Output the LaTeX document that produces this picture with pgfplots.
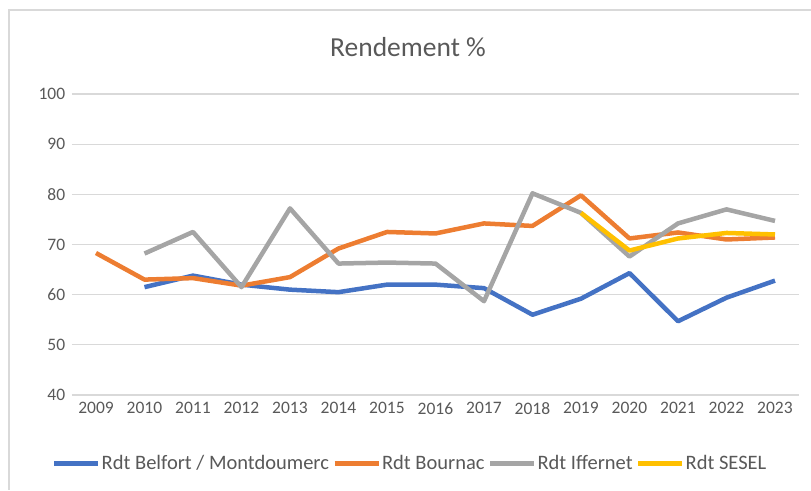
\documentclass[border=0pt]{standalone}
\usepackage{fontspec}
\setmainfont{Carlito}
\usepackage{pgfplots}
\pgfplotsset{compat=1.18}

\definecolor{rdtblue}{HTML}{4472C4}
\definecolor{rdtorange}{HTML}{ED7D31}
\definecolor{rdtgray}{HTML}{A5A5A5}
\definecolor{rdtyellow}{HTML}{FFC000}
\definecolor{gridgray}{HTML}{D9D9D9}
\definecolor{txtgray}{HTML}{595959}

\begin{document}
\begin{tikzpicture}[x=1pt,y=1pt]
\useasboundingbox (0,0) rectangle (811,490);
% chart area frame (only top and left edges visible)
\draw[gridgray, line width=1.5pt] (811,480) -- (9,480) -- (9,0);
\node[txtgray, font=\fontsize{27.5}{32}\selectfont] at (408,443) {Rendement \%};

\begin{axis}[
  scale only axis,
  width=727.5pt, height=301pt,
  at={(71.75pt,95pt)}, anchor=south west,
  xmin=2008.5, xmax=2023.5,
  ymin=40, ymax=100,
  xtick={2009,...,2023},
  ytick={40,50,...,100},
  x tick label style={/pgf/number format/1000 sep={}},
  /pgf/number format/assume math mode=true,
  tick label style={font=\fontsize{17.5}{20}\selectfont, text=txtgray},
  yticklabel style={xshift=-3pt},
  xticklabel style={yshift=-4pt},
  major tick length=0pt,
  axis line style={draw=none},
  ymajorgrids,
  grid style={gridgray, line width=1.3pt},
  legend columns=4,
  legend style={draw=none, at={(0.465,-0.226)}, anchor=center,
    font=\fontsize{20.5}{24}\selectfont, text=txtgray,
    /tikz/every odd column/.append style={column sep=-1pt},
    /tikz/every even column/.append style={column sep=1pt}},
  legend cell align=left,
  legend image code/.code={\draw[#1, line width=5pt] (0pt,0pt) -- (44pt,0pt);},
  every axis plot/.append style={line width=4.5pt, line join=round, mark=none},
]
\addplot[rdtblue] coordinates {
  (2010,61.5)(2011,63.8)(2012,62.0)(2013,61.0)(2014,60.5)(2015,62.0)(2016,62.0)
  (2017,61.3)(2018,56.0)(2019,59.2)(2020,64.3)(2021,54.7)(2022,59.4)(2023,62.8)
};
\addlegendentry{Rdt Belfort / Montdoumerc}
\addplot[rdtorange] coordinates {
  (2009,68.3)(2010,63.0)(2011,63.3)(2012,61.8)(2013,63.5)(2014,69.2)(2015,72.5)
  (2016,72.2)(2017,74.2)(2018,73.7)(2019,79.8)(2020,71.2)(2021,72.4)(2022,71.0)(2023,71.4)
};
\addlegendentry{Rdt Bournac}
\addplot[rdtgray] coordinates {
  (2010,68.2)(2011,72.5)(2012,61.5)(2013,77.2)(2014,66.2)(2015,66.4)(2016,66.2)
  (2017,58.7)(2018,80.2)(2019,76.3)(2020,67.6)(2021,74.2)(2022,77.0)(2023,74.7)
};
\addlegendentry{Rdt Iffernet}
\addplot[rdtyellow] coordinates {
  (2019,76.3)(2020,68.8)(2021,71.2)(2022,72.3)(2023,72.0)
};
\addlegendentry{Rdt SESEL}
\end{axis}
\end{tikzpicture}
\end{document}
